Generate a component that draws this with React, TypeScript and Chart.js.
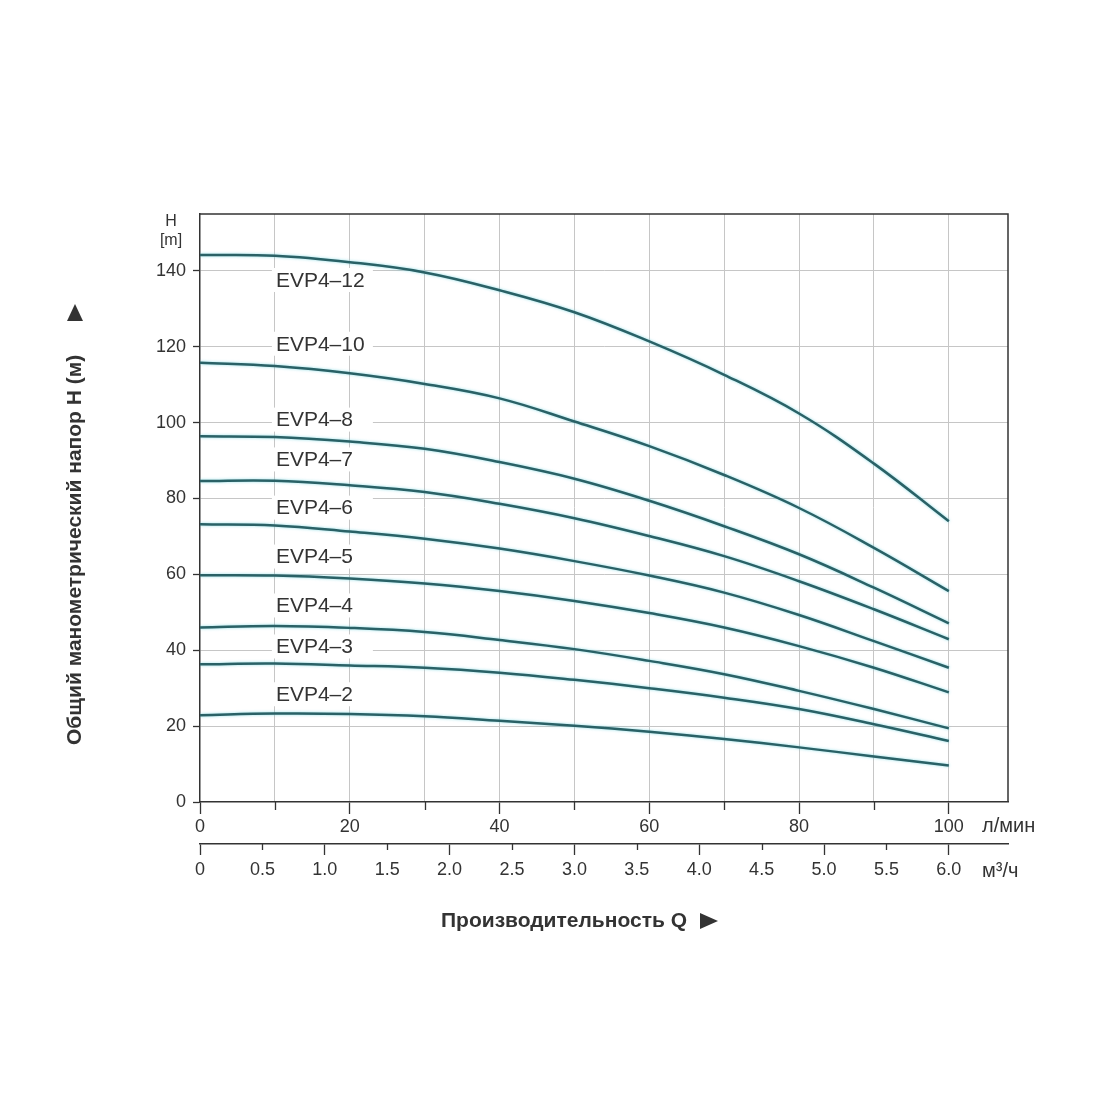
import React, { useEffect, useRef } from 'react';
import { Chart, registerables } from 'chart.js';

Chart.register(...registerables);

// ---- data ----
const FLOW_LMIN = [0, 10, 20, 30, 40, 50, 60, 70, 80, 90, 100];
const SERIES_NAMES = ['EVP4–12', 'EVP4–10', 'EVP4–8', 'EVP4–7', 'EVP4–6', 'EVP4–5', 'EVP4–4', 'EVP4–3', 'EVP4–2'];
const H_EVP4_12 = [144.2, 144.0, 142.3, 139.6, 134.9, 129.1, 121.4, 112.6, 102.4, 89.2, 74.0];
const H_EVP4_10 = [115.8, 114.9, 113.0, 110.2, 106.4, 100.3, 93.8, 86.2, 77.5, 67.0, 55.6];
const H_EVP4_8 = [96.4, 96.2, 95.0, 93.1, 89.6, 85.2, 79.4, 72.7, 65.3, 56.5, 47.1];
const H_EVP4_7 = [84.6, 84.7, 83.5, 81.7, 78.6, 74.8, 70.1, 64.8, 58.2, 50.8, 42.9];
const H_EVP4_6 = [73.2, 72.9, 71.3, 69.4, 66.8, 63.5, 59.7, 55.2, 49.3, 42.4, 35.4];
const H_EVP4_5 = [59.8, 59.7, 58.9, 57.6, 55.6, 53.0, 49.8, 46.0, 41.1, 35.4, 28.9];
const H_EVP4_4 = [46.0, 46.4, 45.9, 44.8, 42.7, 40.3, 37.2, 33.7, 29.3, 24.5, 19.4];
const H_EVP4_3 = [36.3, 36.5, 36.0, 35.4, 34.1, 32.2, 30.0, 27.5, 24.5, 20.5, 16.1];
const H_EVP4_2 = [22.9, 23.3, 23.2, 22.6, 21.4, 20.1, 18.5, 16.6, 14.4, 12.0, 9.6];
const SERIES_VALUES = [H_EVP4_12, H_EVP4_10, H_EVP4_8, H_EVP4_7, H_EVP4_6, H_EVP4_5, H_EVP4_4, H_EVP4_3, H_EVP4_2];

// label anchors (flow, head) for series names
const LABEL_Q = 10;
const LABEL_H = [137.6, 120.8, 100.8, 90.3, 77.6, 64.7, 51.8, 41.0, 28.4];

const Y_TICKS = [0, 20, 40, 60, 80, 100, 120, 140];
const X_TICKS = [0, 10, 20, 30, 40, 50, 60, 70, 80, 90, 100];
const X_LABELED = [0, 20, 40, 60, 80, 100];
const M3H_TICKS = [0, 0.5, 1.0, 1.5, 2.0, 2.5, 3.0, 3.5, 4.0, 4.5, 5.0, 5.5, 6.0];
const M3H_LABELS = ['0', '0.5', '1.0', '1.5', '2.0', '2.5', '3.0', '3.5', '4.0', '4.5', '5.0', '5.5', '6.0'];
const M3H_PER_LMIN = 0.06;

const X_MAX = 107.9;
const Y_MAX = 155;

const Y_TITLE = 'Общий манометрический напор H (м)';
const X_TITLE = 'Производительность Q';
const X_UNIT = 'л/мин';
const X2_UNIT = 'м³/ч';

const FONT = '"Liberation Sans", Arial, Helvetica, sans-serif';
const INK = '#333333';
const GRID = '#c6c6c6';
const LINE = '#2a6166';
const CLEAR = 'rgba(0,0,0,0)';

const decorPlugin = {
  id: 'decor',
  beforeDatasetsDraw(chart: any) {
    const ctx = chart.ctx;
    const xs = chart.scales.x;
    const ys = chart.scales.y;
    ctx.save();
    ctx.font = `21px ${FONT}`;
    ctx.textBaseline = 'middle';
    ctx.textAlign = 'left';
    SERIES_NAMES.forEach((name, i) => {
      const px = xs.getPixelForValue(LABEL_Q);
      const py = ys.getPixelForValue(LABEL_H[i]);
      ctx.fillStyle = '#ffffff';
      ctx.fillRect(px - 3, py - 12, 101, 24);
      ctx.fillStyle = INK;
      ctx.fillText(name, px + 1, py + 1);
    });
    ctx.restore();
    ctx.save();
    ctx.shadowColor = 'rgba(70,200,215,0.6)';
    ctx.shadowBlur = 3;
  },
  afterDatasetsDraw(chart: any) {
    chart.ctx.restore();
  },
  afterDraw(chart: any) {
    const ctx = chart.ctx;
    const { left, right, top, bottom } = chart.chartArea;
    const xs = chart.scales.x;
    const x2 = chart.scales.x2;
    ctx.save();
    ctx.strokeStyle = INK;
    ctx.lineWidth = 1.5;
    // frame top and right
    ctx.beginPath();
    ctx.moveTo(left, top);
    ctx.lineTo(right, top);
    ctx.lineTo(right, bottom);
    ctx.stroke();
    // minor ticks
    ctx.lineWidth = 1.3;
    ctx.beginPath();
    X_TICKS.filter((v) => !X_LABELED.includes(v)).forEach((v) => {
      const px = Math.round(xs.getPixelForValue(v)) + 0.5;
      ctx.moveTo(px, xs.top);
      ctx.lineTo(px, xs.top + 8);
    });
    M3H_TICKS.filter((v) => Math.round(v) !== v).forEach((v) => {
      const px = Math.round(x2.getPixelForValue(v)) + 0.5;
      ctx.moveTo(px, x2.top);
      ctx.lineTo(px, x2.top + 6);
    });
    ctx.stroke();

    ctx.fillStyle = INK;
    // H [m]
    ctx.font = `16px ${FONT}`;
    ctx.textAlign = 'center';
    ctx.textBaseline = 'middle';
    ctx.fillText('H', left - 29, top + 8);
    ctx.fillText('[m]', left - 29, top + 27);

    // units
    ctx.font = `20px ${FONT}`;
    ctx.textAlign = 'left';
    ctx.fillText(X_UNIT, 982, xs.top + 24);
    ctx.fillText(X2_UNIT, 982, x2.top + 27);

    // x title
    ctx.font = `bold 21px ${FONT}`;
    ctx.textAlign = 'left';
    ctx.fillText(X_TITLE, 441, 921);
    // arrow ►
    ctx.beginPath();
    ctx.moveTo(700, 913);
    ctx.lineTo(718, 921);
    ctx.lineTo(700, 929);
    ctx.closePath();
    ctx.fill();

    // y title
    ctx.save();
    ctx.translate(75, 745);
    ctx.rotate(-Math.PI / 2);
    ctx.font = `bold 21px ${FONT}`;
    ctx.textAlign = 'left';
    ctx.textBaseline = 'middle';
    ctx.fillText(Y_TITLE, 0, 0);
    ctx.restore();
    // arrow ▲
    ctx.beginPath();
    ctx.moveTo(67, 321);
    ctx.lineTo(75, 304);
    ctx.lineTo(83, 321);
    ctx.closePath();
    ctx.fill();

    ctx.restore();
  },
};

export default function App() {
  const canvasRef = useRef<HTMLCanvasElement | null>(null);

  useEffect(() => {
    if (!canvasRef.current) return;
    const datasets = SERIES_NAMES.map((name, i) => ({
      label: name,
      data: FLOW_LMIN.map((q, j) => ({ x: q, y: SERIES_VALUES[i][j] })),
      borderColor: LINE,
      borderWidth: 2.5,
      pointRadius: 0,
      fill: false,
      tension: 0.4,
    }));

    const chart = new Chart(canvasRef.current, {
      type: 'line',
      data: { datasets },
      plugins: [decorPlugin],
      options: {
        animation: false,
        responsive: true,
        maintainAspectRatio: false,
        devicePixelRatio: 1,
        layout: { padding: { left: 150, top: 214, right: 92, bottom: 206 } },
        plugins: { legend: { display: false }, tooltip: { enabled: false }, title: { display: false } },
        scales: {
          x: {
            type: 'linear',
            position: 'bottom',
            min: 0,
            max: X_MAX,
            weight: 0,
            afterBuildTicks: (scale: any) => {
              scale.ticks = X_TICKS.map((v) => ({ value: v }));
            },
            afterFit: (scale: any) => {
              scale.height = 42;
            },
            ticks: {
              autoSkip: false,
              maxRotation: 0,
              padding: 2,
              color: INK,
              font: { family: FONT, size: 18 },
              callback: (value: any) => (X_LABELED.includes(Number(value)) ? String(value) : ''),
            },
            grid: {
              color: (c: any) => (c.tick && c.tick.value === 0 ? CLEAR : GRID),
              lineWidth: 1,
              tickLength: 12,
              tickWidth: 1.3,
              tickColor: (c: any) => (c.tick && X_LABELED.includes(c.tick.value) ? INK : CLEAR),
            },
            border: { display: true, color: INK, width: 1.5 },
          },
          x2: {
            type: 'linear',
            position: 'bottom',
            min: 0,
            max: X_MAX * M3H_PER_LMIN,
            weight: 1,
            afterBuildTicks: (scale: any) => {
              scale.ticks = M3H_TICKS.map((v) => ({ value: v }));
            },
            afterFit: (scale: any) => {
              scale.height = 50;
            },
            ticks: {
              autoSkip: false,
              maxRotation: 0,
              padding: 4,
              color: INK,
              font: { family: FONT, size: 18 },
              callback: (_v: any, index: number) => M3H_LABELS[index],
            },
            grid: {
              drawOnChartArea: false,
              tickLength: 11,
              tickWidth: 1.3,
              tickColor: (c: any) => (c.tick && Math.round(c.tick.value) === c.tick.value ? INK : CLEAR),
            },
            border: { display: true, color: INK, width: 1.5 },
          },
          y: {
            type: 'linear',
            position: 'left',
            min: 0,
            max: Y_MAX,
            afterBuildTicks: (scale: any) => {
              scale.ticks = Y_TICKS.map((v) => ({ value: v }));
            },
            afterFit: (scale: any) => {
              scale.width = 50;
            },
            ticks: {
              autoSkip: false,
              padding: 7,
              color: INK,
              font: { family: FONT, size: 18 },
            },
            grid: {
              color: (c: any) => (c.tick && c.tick.value === 0 ? CLEAR : GRID),
              lineWidth: 1,
              tickLength: 7,
              tickWidth: 1.3,
              tickColor: INK,
            },
            border: { display: true, color: INK, width: 1.5 },
          },
        },
      },
    } as any);

    return () => chart.destroy();
  }, []);

  return (
    <div style={{ position: 'absolute', left: 0, top: 0, width: 1100, height: 1100, background: '#ffffff' }}>
      <canvas ref={canvasRef} />
    </div>
  );
}
